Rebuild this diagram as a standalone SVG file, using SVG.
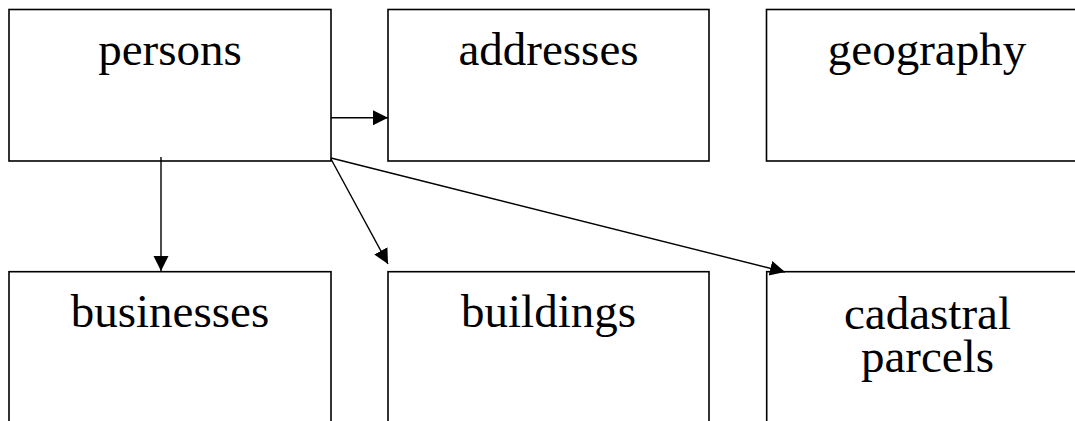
<svg xmlns="http://www.w3.org/2000/svg" width="1075" height="421" viewBox="0 0 1075 421">
<style>
.box{fill:#fff;stroke:#000;stroke-width:1.6}
.lbl{font-family:"Liberation Serif","Times New Roman",serif;font-size:47px;fill:#000;text-anchor:middle}
.con{stroke:#000;stroke-width:1.4;fill:none}
</style>
<defs>
<marker id="arr" markerUnits="userSpaceOnUse" markerWidth="16" markerHeight="16" refX="15" refY="7.5" orient="auto">
<path d="M0,0 L15,7.5 L0,15 z" fill="#000"/>
</marker>
</defs>
<rect width="1075" height="421" fill="#fff"/>
<g id="persons"><rect class="box" x="9" y="9.5" width="322" height="151.5"/><text class="lbl" x="170" y="65">persons</text></g>
<g id="addresses"><rect class="box" x="388" y="9.5" width="321" height="151.5"/><text class="lbl" x="548.5" y="65">addresses</text></g>
<g id="geography"><rect class="box" x="766.5" y="9.5" width="321" height="151.5"/><text class="lbl" x="927" y="65">geography</text></g>
<g id="businesses"><rect class="box" x="9" y="271.7" width="322" height="170"/><text class="lbl" x="170" y="327">businesses</text></g>
<g id="buildings"><rect class="box" x="388" y="271.7" width="321" height="170"/><text class="lbl" x="548.5" y="327">buildings</text></g>
<g id="cadastral"><rect class="box" x="766.7" y="271.7" width="321" height="170"/><text class="lbl" x="927.5" y="328.5">cadastral</text><text class="lbl" x="927.5" y="372">parcels</text></g>
<g id="connectors">
<line class="con" x1="331" y1="117.7" x2="388" y2="117.7" marker-end="url(#arr)"/>
<line class="con" x1="161" y1="157" x2="161" y2="271" marker-end="url(#arr)"/>
<line class="con" x1="331" y1="159" x2="388" y2="264" marker-end="url(#arr)"/>
<line class="con" x1="331" y1="158" x2="785" y2="272" marker-end="url(#arr)"/>
</g>
</svg>
